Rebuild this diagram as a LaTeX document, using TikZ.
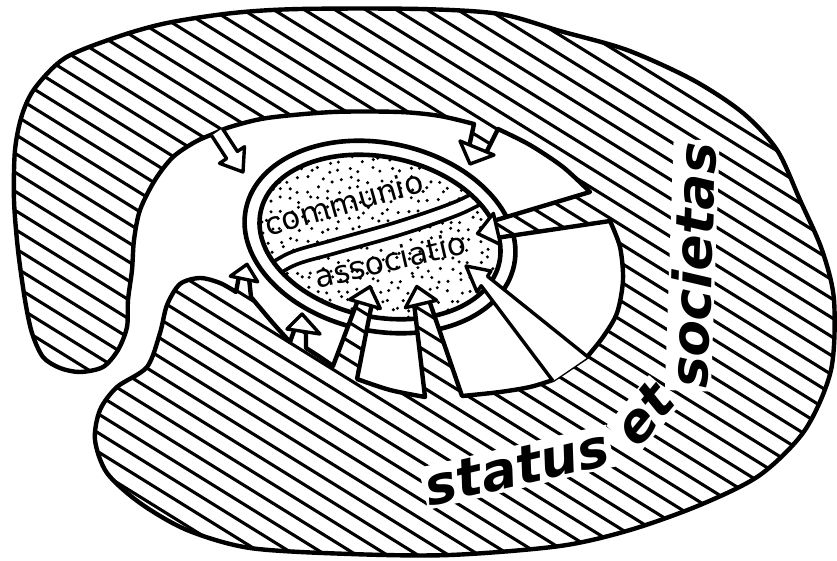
\documentclass[tikz,border=0pt]{standalone}
\usepackage{fontspec}
\setsansfont{DejaVu Sans}[BoldItalicFont={DejaVu Sans Bold Oblique}]
\usetikzlibrary{calc}

% outline of the hatched society (C shape with its arrow stems)
\newcommand{\societaspath}{%
  (236,292) -- (239,276) -- (249,278) -- (251,297)
  -- plot[smooth] coordinates {(251,297) (272,322) (290,342)}
  -- (295,328) -- (306,330) -- (306,348)
  -- plot[smooth] coordinates {(306,348) (320,357) (333,366)}
  -- (358,300) -- (372,303) -- (357,379)
  -- plot[smooth] coordinates {(357,379) (390,390) (425,397)}
  -- (414,303) -- (429,300) -- (462,396)
  -- plot[smooth] coordinates {(462,396) (500,392) (530,387) (553,380)}
  -- (587,357)
  -- plot[smooth] coordinates {(587,357) (603,337) (617,313) (623,280) (620,247) (610,221)}
  -- (496,238) -- (493,221) -- (590,192)
  -- plot[smooth] coordinates {(590,192) (563,167) (530,145) (498,129)}
  -- (486,153) -- (469,147) -- (474,124)
  -- plot[smooth] coordinates {(474,124) (440,116) (400,112) (333,112) (267,118) (230,127)
     (213,134) (195,142) (173,157) (155,180) (140,210) (134,240) (132,270) (128,300)
     (127,327) (118,350) (103,367) (80,372) (60,368) (43,357) (32,333) (25,300) (18,250)
     (14,200) (15,150) (22,115) (35,88) (65,58) (117,37) (167,23) (233,13) (300,9)
     (420,9) (500,14) (560,31) (627,50) (693,80) (743,113) (777,150) (800,200) (822,250)
     (834,300) (831,370) (805,430) (760,475) (700,505) (630,530) (560,546) (450,555)
     (350,554) (250,548) (187,530) (140,503) (107,473) (95,440) (100,410) (117,387)
     (147,367) (160,333) (167,305) (180,284) (200,278) (220,283) (236,292)}
  -- cycle}

\begin{document}
\begin{tikzpicture}[
  x=1pt, y=-1pt,
  outline/.style ={line width=4.4pt, line join=round, line cap=round},
  hatch/.style   ={line width=3.1pt},
  ring/.style    ={line width=4.6pt},
  head/.style    ={draw, fill=white, line width=3.4pt, line join=round},
  arrowbody/.style={draw, fill=white, line width=3.4pt, line join=round},
  lbl/.style     ={font=\sffamily\fontsize{31}{31}\selectfont, inner sep=0pt},
  motto/.style   ={font=\sffamily\bfseries\itshape\fontsize{53}{53}\selectfont, fill=white, inner sep=2.5pt}
]
\useasboundingbox (0,0) rectangle (837,561);
\coordinate (eye) at (380,237);

% ---- the ellipse: ring, stipple, dividing band ----
\fill[white, rotate around={-12:(eye)}] (eye) ellipse [x radius=137pt, y radius=94pt];
\begin{scope}
  \clip[rotate around={-12:(eye)}] (eye) ellipse [x radius=122pt, y radius=80pt];
  \pgfmathsetseed{11}
  \foreach \x in {250,260,...,512} {
    \foreach \y in {140,150,...,334} {
      \fill ({\x+3.5*rand},{\y+3.5*rand}) circle (1.7pt);
    }
  }
  \draw[line width=17pt] plot[smooth] coordinates {(245,288) (290,260) (333,247) (400,228) (460,207) (505,183)};
  \draw[white, line width=9.5pt] plot[smooth] coordinates {(245,288) (290,260) (333,247) (400,228) (460,207) (505,183)};
\end{scope}
\draw[ring, rotate around={-12:(eye)}] (eye) ellipse [x radius=122pt, y radius=80pt];
\draw[ring, rotate around={-12:(eye)}] (eye) ellipse [x radius=137pt, y radius=94pt];

% ---- hatched status et societas ----
\begin{scope}
  \clip \societaspath;
  \fill[white] (0,0) rectangle (837,561);
  \foreach \c in {-540,-521,...,580}
    \draw[hatch] (-20,{\c-12.4}) -- (860,{\c+533.2});
\end{scope}
\draw[outline] \societaspath;

% ---- arrows ----
\filldraw[arrowbody] (211.6,135.6) -- (226.6,158.6) -- (219.5,163.3) -- (243,172)
  -- (244.5,146.7) -- (237.4,151.4) -- (222.4,128.4);
\filldraw[arrowbody] (588,357) -- (487.5,276.3) -- (491,271) -- (466,266)
  -- (477,292) -- (481.2,285.7) -- (553,381);
\draw[head] (460,141) -- (470,164) -- (494,155) -- cycle;
\draw[head] (493.4,213.4) -- (477.5,233.5) -- (500.6,244.6) -- cycle;
\draw[head] (349.7,299.5) -- (370,286.7) -- (380.3,308.5) -- cycle;
\draw[head] (405.4,307.7) -- (416.8,286.5) -- (436.6,300.3) -- cycle;
\draw[head] (230.3,276.2) -- (247,264.3) -- (257.7,281.8) -- cycle;
\draw[head] (287,329) -- (302,314) -- (320,334) -- cycle;

% ---- labels ----
\node[lbl, rotate=16, anchor=base] (communio) at (347,214) {communio};
\node[lbl, rotate=13, anchor=base] (associatio) at (393,271) {associatio};
\node[motto, rotate=13, anchor=base] (status) at (521,485) {status};
\node[motto, rotate=50, anchor=base] (et) at (658,426) {et};
\node[motto, rotate=88, anchor=base] (societas) at (712,266) {societas};

\end{tikzpicture}
\end{document}
